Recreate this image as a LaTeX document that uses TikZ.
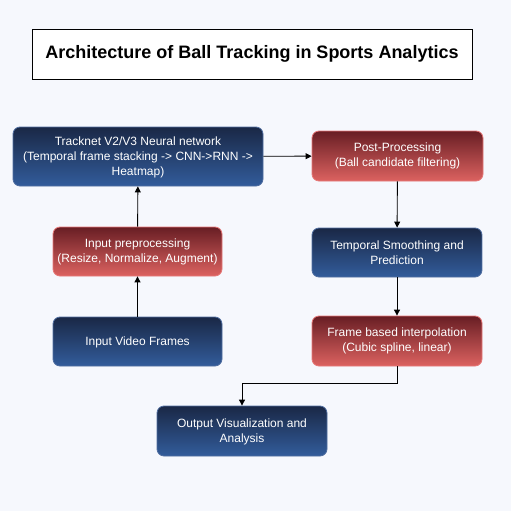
\documentclass[tikz,border=0pt]{standalone}
\usepackage{fontspec}
\setmainfont{Liberation Sans}
\usetikzlibrary{arrows.meta}
\definecolor{bg}{RGB}{246,248,253}
\definecolor{btop}{RGB}{26,40,70}
\definecolor{bbot}{RGB}{50,92,155}
\definecolor{bbord}{RGB}{80,110,160}
\definecolor{rtop}{RGB}{104,30,36}
\definecolor{rbot}{RGB}{220,98,96}
\definecolor{rbord}{RGB}{230,120,120}
\tikzset{
  bluebox/.style={draw=bbord, line width=0.8pt, rounded corners=7pt, top color=btop, bottom color=bbot, text=white, align=center, font=\fontsize{12}{15}\selectfont, inner sep=0pt, text depth=0pt},
  redbox/.style={draw=rbord, line width=0.8pt, rounded corners=7pt, top color=rtop, bottom color=rbot, text=white, align=center, font=\fontsize{12}{15}\selectfont, inner sep=0pt},
  conn/.style={draw=black, line width=0.9pt, -{Triangle[length=6pt,width=6pt]}}
}
\begin{document}
\begin{tikzpicture}[x=1pt,y=-1pt]
\fill[bg] (0,0) rectangle (511,511);
\useasboundingbox (0,0) rectangle (511,511);
\node[draw=black, line width=0.8pt, fill=white, minimum width=440pt, minimum height=50pt, font=\bfseries\fontsize{18}{21}\selectfont] (title) at (252,54) {Architecture of Ball Tracking in Sports Analytics};
\node[bluebox, minimum width=250pt, minimum height=59pt] (track) at (138,156.5) {Tracknet V2/V3 Neural network\\(Temporal frame stacking -> CNN->RNN ->\\Heatmap)};
\node[redbox, minimum width=171pt, minimum height=50pt] (post) at (397.5,156) {Post-Processing\\(Ball candidate filtering)};
\node[redbox, minimum width=169pt, minimum height=49pt] (pre) at (137.5,251.5) {Input preprocessing\\(Resize, Normalize, Augment)};
\node[bluebox, minimum width=170pt, minimum height=49pt] (temp) at (397,252.5) {Temporal Smoothing and\\Prediction};
\node[bluebox, minimum width=169pt, minimum height=49pt] (input) at (137.5,341.5) {Input Video Frames};
\node[redbox, minimum width=170pt, minimum height=50pt] (frame) at (397,341) {Frame based interpolation\\(Cubic spline, linear)};
\node[bluebox, minimum width=170pt, minimum height=50pt] (out) at (242,431) {Output Visualization and\\Analysis};
\coordinate (c1) at (397,383);
\coordinate (c2) at (242,383);
\draw[conn] (input) -- (pre);
\draw[conn] (pre) -- (track);
\draw[conn] (track) -- (post);
\draw[conn] (post) -- (temp);
\draw[conn] (temp) -- (frame);
\draw[conn] (frame.south) -- (c1) -- (c2) -- (out.north);
\end{tikzpicture}
\end{document}
